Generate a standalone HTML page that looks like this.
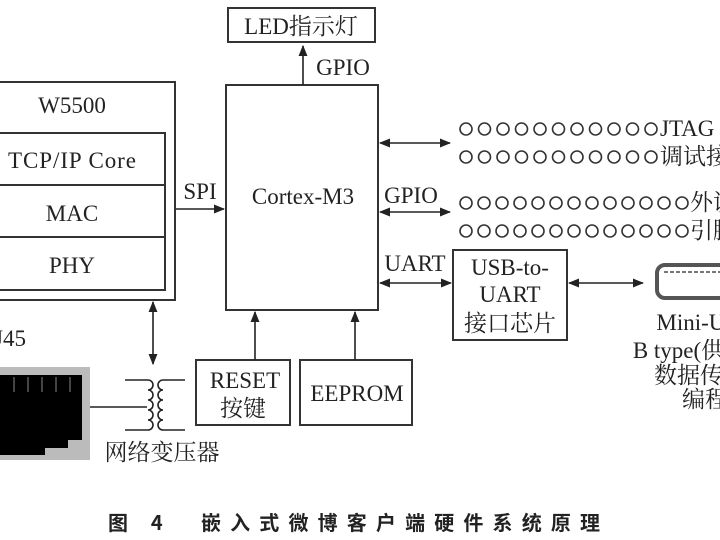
<!DOCTYPE html>
<html><head><meta charset="utf-8"><style>
html,body{margin:0;padding:0;background:#fff;width:720px;height:540px;overflow:hidden}
svg{display:block}
text{font-family:"Liberation Serif","Noto Serif CJK SC",serif;fill:#222}
</style></head><body>
<svg width="720" height="540" viewBox="0 0 720 540" xmlns="http://www.w3.org/2000/svg">
<defs>
<marker id="a" viewBox="0 0 10 10" refX="9" refY="5" markerWidth="7" markerHeight="7" orient="auto-start-reverse"><path d="M0,1 L10,5 L0,9 z" fill="#222"/></marker>
</defs>
<g stroke="#333" stroke-width="2" fill="none">
<rect x="228" y="8" width="147" height="34"/>
<rect x="226" y="85" width="152" height="225"/>
<rect x="-2" y="82" width="177" height="218"/>
<rect x="-2" y="133" width="167" height="157"/>
<line x1="-2" y1="185" x2="165" y2="185"/>
<line x1="-2" y1="237" x2="165" y2="237"/>
<rect x="453" y="250" width="114" height="90"/>
<rect x="196" y="360" width="94" height="65"/>
<rect x="300" y="360" width="112" height="65"/>
</g>
<g stroke="#222" stroke-width="1.6" fill="none">
<line x1="303" y1="85" x2="303" y2="46" marker-end="url(#a)"/>
<line x1="176" y1="209" x2="224" y2="209" marker-end="url(#a)"/>
<line x1="380" y1="143" x2="450" y2="143" marker-start="url(#a)" marker-end="url(#a)"/>
<line x1="380" y1="212" x2="450" y2="212" marker-start="url(#a)" marker-end="url(#a)"/>
<line x1="380" y1="283" x2="451" y2="283" marker-start="url(#a)" marker-end="url(#a)"/>
<line x1="569" y1="283" x2="643" y2="283" marker-start="url(#a)" marker-end="url(#a)"/>
<line x1="255" y1="360" x2="255" y2="312" marker-end="url(#a)"/>
<line x1="355" y1="360" x2="355" y2="312" marker-end="url(#a)"/>
<line x1="153" y1="302" x2="153" y2="364" marker-start="url(#a)" marker-end="url(#a)"/>
<line x1="90" y1="407" x2="147" y2="407"/>
<path d="M125,380 H148 M125,430 H148 M148,380 a4,4 0 0 1 0,10 a4,4 0 0 1 0,10 a4,4 0 0 1 0,10 a4,4 0 0 1 0,10 a4,4 0 0 1 0,10"/>
<path d="M185,380 H163 M185,430 H163 M163,380 a4,4 0 0 0 0,10 a4,4 0 0 0 0,10 a4,4 0 0 0 0,10 a4,4 0 0 0 0,10 a4,4 0 0 0 0,10"/>
</g>
<!-- RJ45 -->
<rect x="-2" y="367" width="92" height="93" fill="#bbb"/>
<path d="M0,375 H82 V440 H68 V448 H45 V455 H0 z" fill="#000"/>
<g stroke="#888" stroke-width="1"><line x1="14" y1="377" x2="14" y2="392"/><line x1="28" y1="377" x2="28" y2="392"/><line x1="42" y1="377" x2="42" y2="392"/><line x1="56" y1="377" x2="56" y2="392"/><line x1="70" y1="377" x2="70" y2="392"/></g>
<!-- mini usb -->
<rect x="657" y="265" width="70" height="33" rx="8" fill="none" stroke="#555" stroke-width="4"/>
<path d="M664,272 H720" stroke="#777" stroke-width="2" stroke-dasharray="4,2"/>
<g font-size="23" text-anchor="middle">
<text x="301" y="34">LED指示灯</text>
<text x="343" y="75">GPIO</text>
<text x="303" y="204">Cortex-M3</text>
<text x="72" y="113">W5500</text>
<text x="72" y="168" textLength="128">TCP/IP Core</text>
<text x="72" y="221">MAC</text>
<text x="72" y="273">PHY</text>
<text x="200" y="199">SPI</text>
<text x="411" y="203">GPIO</text>
<text x="415" y="271">UART</text>
<text x="510" y="275">USB-to-</text>
<text x="510" y="302">UART</text>
<text x="510" y="331">接口芯片</text>
<text x="245" y="388">RESET</text>
<text x="243" y="416">按键</text>
<text x="357" y="401">EEPROM</text>
<text x="162" y="460">网络变压器</text>
<text x="705" y="330">Mini-USB</text>
<text x="690" y="358">B type(供电</text>
<text x="700" y="383">数据传输</text>
<text x="705" y="407">编程</text>
</g>
<g font-size="23">
<text x="-6" y="346">J45</text>
<text x="660" y="136">JTAG</text>
<text x="660" y="164">调试接口</text>
<text x="690" y="210">外设</text>
<text x="690" y="238">引脚</text>
</g>
<g fill="none" stroke="#333" stroke-width="1.6">
<g id="r1">
<circle cx="466" cy="129" r="6"/><circle cx="484.5" cy="129" r="6"/><circle cx="503" cy="129" r="6"/><circle cx="521.5" cy="129" r="6"/><circle cx="540" cy="129" r="6"/><circle cx="558.5" cy="129" r="6"/><circle cx="577" cy="129" r="6"/><circle cx="595.5" cy="129" r="6"/><circle cx="614" cy="129" r="6"/><circle cx="632.5" cy="129" r="6"/><circle cx="651" cy="129" r="6"/>
</g>
<use href="#r1" y="28"/>
<g id="r3">
<circle cx="466" cy="203" r="6"/><circle cx="484" cy="203" r="6"/><circle cx="502" cy="203" r="6"/><circle cx="520" cy="203" r="6"/><circle cx="538" cy="203" r="6"/><circle cx="556" cy="203" r="6"/><circle cx="574" cy="203" r="6"/><circle cx="592" cy="203" r="6"/><circle cx="610" cy="203" r="6"/><circle cx="628" cy="203" r="6"/><circle cx="646" cy="203" r="6"/><circle cx="664" cy="203" r="6"/><circle cx="682" cy="203" r="6"/>
</g>
<use href="#r3" y="28"/>
</g>
<text x="108" y="530" font-size="20" font-weight="bold" textLength="492" style="font-family:'Noto Sans CJK SC',sans-serif">图 4　嵌入式微博客户端硬件系统原理</text>
</svg>
</body></html>
